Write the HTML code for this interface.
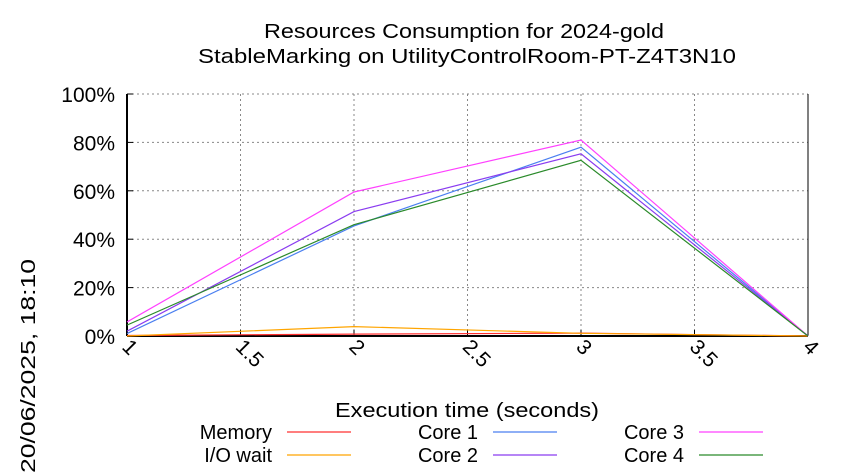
<!DOCTYPE html>
<html><head><meta charset="utf-8"><style>html,body{margin:0;padding:0;background:#fff}svg{display:block}text{font-family:"Liberation Sans",sans-serif;fill:#000}</style></head>
<body>
<svg id="chart" width="850" height="475" viewBox="0 0 850 475">
<text x="464" y="38" font-size="20" text-anchor="middle" textLength="400" lengthAdjust="spacingAndGlyphs">Resources Consumption for 2024-gold</text>
<text x="467" y="63" font-size="20" text-anchor="middle" textLength="538" lengthAdjust="spacingAndGlyphs">StableMarking on UtilityControlRoom-PT-Z4T3N10</text>
<g id="grid"></g>
<g id="axes"></g>
<g id="series"></g>
<text x="467" y="417" font-size="20" text-anchor="middle" textLength="264" lengthAdjust="spacingAndGlyphs">Execution time (seconds)</text>
<text transform="translate(35,366) rotate(-90)" font-size="20" text-anchor="middle" textLength="214" lengthAdjust="spacingAndGlyphs">20/06/2025, 18:10</text>
<g id="legend"></g>
</svg>
<script>
const xValues = [1, 2, 3, 4];
const memory = [0.2, 0.8, 1.2, 0];
const ioWait = [0, 3.9, 1.1, 0];
const core1 = [1, 45.5, 78, 0];
const core2 = [2, 51.4, 75.3, 0];
const core3 = [5.8, 59.5, 81, 0];
const core4 = [4.5, 46, 72.6, 0];
const xTicks = [1, 1.5, 2, 2.5, 3, 3.5, 4];
const yTicks = [0, 20, 40, 60, 80, 100];
const yTickLabels = ["0%", "20%", "40%", "60%", "80%", "100%"];

const NS = "http://www.w3.org/2000/svg";
const L = 127, R = 808, T = 94, B = 336;
function xs(v){ return L + (v - 1) / 3 * (R - L); }
function ys(v){ return B - v / 100 * (B - T); }
function mk(tag, attrs, parent){ const e = document.createElementNS(NS, tag); for (const k in attrs) e.setAttribute(k, attrs[k]); parent.appendChild(e); return e; }
const grid = document.getElementById('grid'), axes = document.getElementById('axes'), ser = document.getElementById('series'), leg = document.getElementById('legend');

yTicks.forEach((t, i) => {
  const y = ys(t);
  if (t > 0 && t < 100) {
    const g = mk('line', {x1: L, x2: R, y1: y, y2: y, stroke: '#888', 'stroke-width': 1, 'stroke-dasharray': '2,3'}, grid);
    
    
  }
  const tk = mk('line', {x1: L, x2: L + 6, y1: y, y2: y, stroke: '#000', 'stroke-width': 1}, axes);
  
  
  const lb = mk('text', {x: L - 12, y: y + 8, 'font-size': 21, 'text-anchor': 'end'}, axes);
  lb.textContent = yTickLabels[i];
  
  
});
const topLine = mk('line', {x1: L, x2: R, y1: T, y2: T, stroke: '#888', 'stroke-dasharray': '2,3'}, grid);


xTicks.forEach(t => {
  const x = xs(t);
  if (t > 1 && t < 4) {
    const g = mk('line', {x1: x, x2: x, y1: T, y2: B, stroke: '#888', 'stroke-dasharray': '2,3'}, grid);
    
    
  }
  const tk = mk('line', {x1: x, x2: x, y1: B, y2: B - 6, stroke: '#000'}, axes);
  
  
  const lb = mk('text', {transform: `translate(${x - 6},${B + 12}) rotate(45)`, 'font-size': 21}, axes);
  lb.textContent = String(t);
  
  
});
const la = mk('line', {x1: L, x2: L, y1: T, y2: B, stroke: '#000', 'stroke-width': 2}, axes);


const ba = mk('line', {x1: L, x2: R, y1: B, y2: B, stroke: '#000', 'stroke-width': 2}, axes);


const ra = mk('line', {x1: R, x2: R, y1: T, y2: B, stroke: '#000', 'stroke-width': 1}, axes);



const seriesList = [
  {name: 'Memory', vals: memory, color: '#ff3030', lx: 272, ly: 432},
  {name: 'I/O wait', vals: ioWait, color: '#ffa500', lx: 272, ly: 455},
  {name: 'Core 1', vals: core1, color: '#4a7ff0', lx: 478, ly: 432},
  {name: 'Core 2', vals: core2, color: '#8a3cf0', lx: 478, ly: 455},
  {name: 'Core 3', vals: core3, color: '#ff40ff', lx: 684, ly: 432},
  {name: 'Core 4', vals: core4, color: '#2a8a2a', lx: 684, ly: 455}
];
seriesList.forEach(s => {
  const pts = s.vals.map((v, i) => xs(xValues[i]).toFixed(1) + ',' + ys(v).toFixed(1)).join(' ');
  const p = mk('polyline', {points: pts, fill: 'none', stroke: s.color, 'stroke-width': 1.2}, ser);
  
  
  const t = mk('text', {x: s.lx, y: s.ly + 7, 'font-size': 20, 'text-anchor': 'end'}, leg);
  t.textContent = s.name;
  
  
  const l = mk('line', {x1: s.lx + 15, x2: s.lx + 79, y1: s.ly, y2: s.ly, stroke: s.color, 'stroke-width': 1.2}, leg);
  
  
});
</script>
</body></html>
